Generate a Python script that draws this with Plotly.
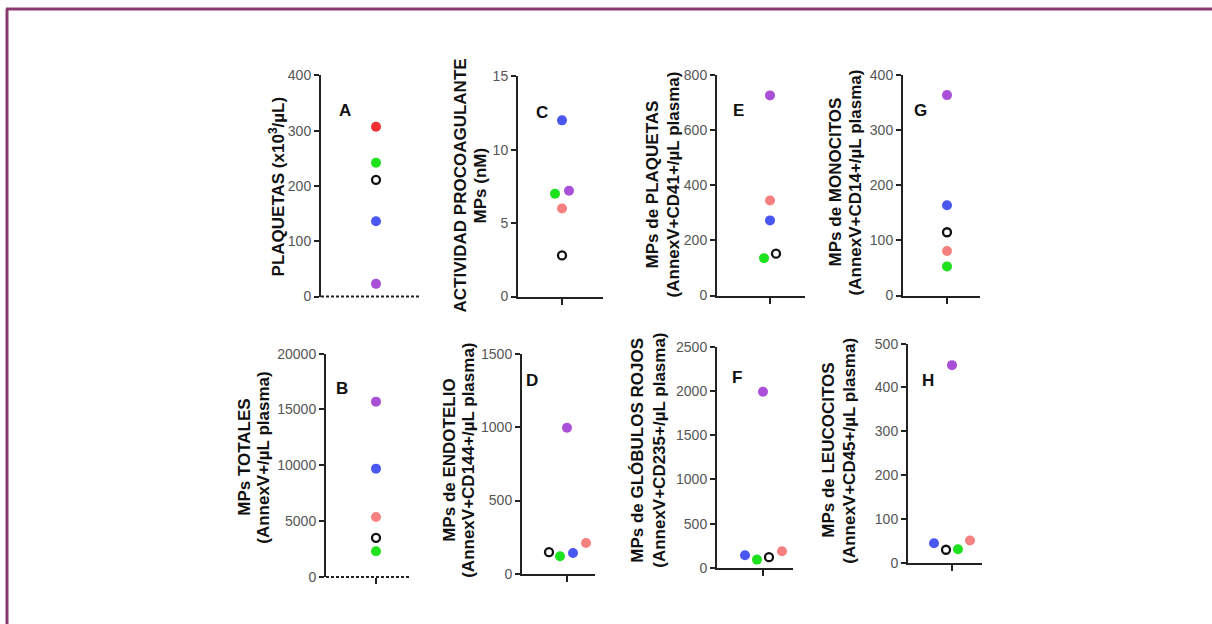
import plotly.graph_objects as go

W, H = 1212, 634      # figure size in px
# the page capture maps figure y to screen y as: screen = SCALE_Y * fig + OFF_Y
SCALE_Y, OFF_Y = 0.9735, 7.8

# ---- data (order: control(open), green, blue, purple, salmon/red) ----
SUBJECT_NAMES = ["Control", "Paciente 1", "Paciente 2", "Paciente 3", "Paciente 4"]
A_values = [211, 242, 136, 23, 307]
B_values = [3500, 2300, 9700, 15700, 5370]
C_values = [2.8, 7.0, 12.0, 7.2, 6.0]
D_values = [148, 120, 143, 995, 211]
E_values = [152, 136, 273, 727, 345]
F_values = [121, 94, 143, 1990, 189]
G_values = [115, 53, 164, 364, 81]
H_values = [30, 31, 45, 451, 51]

A_ticks = [0, 100, 200, 300, 400]
B_ticks = [0, 5000, 10000, 15000, 20000]
C_ticks = [0, 5, 10, 15]
D_ticks = [0, 500, 1000, 1500]
E_ticks = [0, 200, 400, 600, 800]
F_ticks = [0, 500, 1000, 1500, 2000, 2500]
G_ticks = [0, 100, 200, 300, 400]
H_ticks = [0, 100, 200, 300, 400, 500]

A_title = ["PLAQUETAS (x10<sup>3</sup>/µL)"]
B_title = ["MPs TOTALES", "(AnnexV+/µL plasma)"]
C_title = ["ACTIVIDAD PROCOAGULANTE", "MPs (nM)"]
D_title = ["MPs de ENDOTELIO", "(AnnexV+CD144+/µL plasma)"]
E_title = ["MPs de PLAQUETAS", "(AnnexV+CD41+/µL plasma)"]
F_title = ["MPs de GLÓBULOS ROJOS", "(AnnexV+CD235+/µL plasma)"]
G_title = ["MPs de MONOCITOS", "(AnnexV+CD14+/µL plasma)"]
H_title = ["MPs de LEUCOCITOS", "(AnnexV+CD45+/µL plasma)"]

# ---- styles / layout ----
GREEN, BLUE, PURPLE, SALMON, RED = "#1fe21f", "#4b57f2", "#a94fd8", "#f68080", "#ef3030"
FONT = "Liberation Sans, Arial, sans-serif"

# horizontal jitter (px) of each point, same order as values
JIT_0 = [0, 0, 0, 0, 0]
JIT_C = [0, -7, 0, 7, 0]
JIT_D = [-18, -7, 6, 0, 19]
JIT_E = [6, -6, 0, 0, 0]
JIT_F = [6, -6, -18, 0, 19]
JIT_H = [-6, 6, -18, 0, 18]

panels = [
    dict(letter="A", v=A_values, t=A_ticks, title=A_title, jit=JIT_0, ax=321, right=420, y0=296, yt=75,
         c=376, dotted=True, tick=False, c5=RED, tx=[277], ty=186, lp=(345, 110)),
    dict(letter="C", v=C_values, t=C_ticks, title=C_title, jit=JIT_C, ax=518, right=603, y0=296, yt=76,
         c=562, dotted=False, tick=True, c5=SALMON, tx=[460, 480], ty=185, lp=(542, 112)),
    dict(letter="E", v=E_values, t=E_ticks, title=E_title, jit=JIT_E, ax=717, right=805, y0=295, yt=75,
         c=770, dotted=False, tick=True, c5=SALMON, tx=[652, 673], ty=184, lp=(738, 110)),
    dict(letter="G", v=G_values, t=G_ticks, title=G_title, jit=JIT_0, ax=903, right=980, y0=295, yt=75,
         c=947, dotted=False, tick=True, c5=SALMON, tx=[835, 855], ty=182, lp=(920, 110)),
    dict(letter="B", v=B_values, t=B_ticks, title=B_title, jit=JIT_0, ax=326, right=410, y0=576, yt=353,
         c=376, dotted=True, tick=True, c5=SALMON, tx=[245, 264], ty=457, lp=(342, 388)),
    dict(letter="D", v=D_values, t=D_ticks, title=D_title, jit=JIT_D, ax=522, right=595, y0=573, yt=353,
         c=567, dotted=False, tick=True, c5=SALMON, tx=[450, 469], ty=460, lp=(532, 380)),
    dict(letter="F", v=F_values, t=F_ticks, title=F_title, jit=JIT_F, ax=717, right=793, y0=567, yt=346,
         c=763, dotted=False, tick=True, c5=SALMON, tx=[638, 660], ty=450, lp=(737, 377)),
    dict(letter="H", v=H_values, t=H_ticks, title=H_title, jit=JIT_H, ax=908, right=982, y0=562, yt=343,
         c=952, dotted=False, tick=True, c5=SALMON, tx=[829, 850], ty=450, lp=(928, 380)),
]

fig = go.Figure()
layout = dict(
    width=W, height=H, margin=dict(l=0, r=0, t=0, b=0),
    paper_bgcolor="white", plot_bgcolor="rgba(0,0,0,0)", showlegend=False,
    font=dict(family=FONT, color="#111"),
)
shapes, annotations = [], []

def px(x):
    return x / W

def py(y):
    return 1 - ((y - OFF_Y) / SCALE_Y) / H

for i, p in enumerate(panels, start=1):
    xa = "xaxis" if i == 1 else f"xaxis{i}"
    ya = "yaxis" if i == 1 else f"yaxis{i}"
    xr = "x" if i == 1 else f"x{i}"
    yr = "y" if i == 1 else f"y{i}"
    vals = p["v"]
    jit = p["jit"]
    colors = [None, GREEN, BLUE, PURPLE, p["c5"]]
    for k in range(1, 5):
        fig.add_trace(go.Scatter(
            x=[jit[k]], y=[vals[k]], mode="markers", name=SUBJECT_NAMES[k],
            marker=dict(size=10, color=colors[k], line=dict(width=0)),
            xaxis=xr, yaxis=yr, cliponaxis=False, hoverinfo="y"))
    fig.add_trace(go.Scatter(
        x=[jit[0]], y=[vals[0]], mode="markers", name=SUBJECT_NAMES[0],
        marker=dict(size=8, symbol="circle-open", color="#111", line=dict(width=2.3, color="#111")),
        xaxis=xr, yaxis=yr, cliponaxis=False, hoverinfo="y"))

    ymax = p["t"][-1]
    layout[xa] = dict(
        domain=[px(p["ax"]), px(p["right"])], range=[p["ax"] - p["c"], p["right"] - p["c"]],
        anchor=yr, showline=not p["dotted"], linewidth=2, linecolor="#222",
        showgrid=False, zeroline=False, fixedrange=True, showticklabels=False,
        tickmode="array", tickvals=[0] if p["tick"] else [],
        ticks="outside" if p["tick"] else "", ticklen=6, tickwidth=2, tickcolor="#222",
    )
    layout[ya] = dict(
        domain=[py(p["y0"]), py(p["yt"])], range=[0, ymax], anchor=xr,
        showline=True, linewidth=2, linecolor="#222", showgrid=False, zeroline=False,
        tickvals=p["t"], ticktext=[str(t) for t in p["t"]], ticks="outside", ticklen=5,
        tickwidth=2, tickcolor="#222", tickfont=dict(size=14, color="#555", family=FONT),
        fixedrange=True,
    )
    if p["dotted"]:
        shapes.append(dict(type="line", xref="paper", yref="paper",
                           x0=px(p["ax"]), x1=px(p["right"]), y0=py(p["y0"]), y1=py(p["y0"]),
                           line=dict(color="#222", width=2, dash="3px,2px")))
    for line, tx in zip(p["title"], p["tx"]):
        annotations.append(dict(
            text=f"<b>{line}</b>", x=px(tx), y=py(p["ty"]), xref="paper", yref="paper",
            xanchor="center", yanchor="middle", textangle=-90, showarrow=False,
            font=dict(size=17, color="#111", family=FONT)))
    annotations.append(dict(
        text=f"<b>{p['letter']}</b>", x=px(p["lp"][0]), y=py(p["lp"][1]), xref="paper", yref="paper",
        xanchor="center", yanchor="middle", showarrow=False,
        font=dict(size=17, color="#111", family=FONT)))

# outer frame
FRAME = "#8b3a6e"
shapes.append(dict(type="line", xref="paper", yref="paper", x0=px(6), x1=1.0, y0=1 - 1.0 / H, y1=1 - 1.0 / H,
                   line=dict(color=FRAME, width=3)))
shapes.append(dict(type="line", xref="paper", yref="paper", x0=px(7), x1=px(7), y0=1 - 1.0 / H, y1=0,
                   line=dict(color=FRAME, width=3)))

layout["shapes"] = shapes
layout["annotations"] = annotations
fig.update_layout(**layout)

fig.write_html("out.html", config={"displayModeBar": False},
               post_script="document.body.style.margin='0';document.body.style.overflow='hidden';")
